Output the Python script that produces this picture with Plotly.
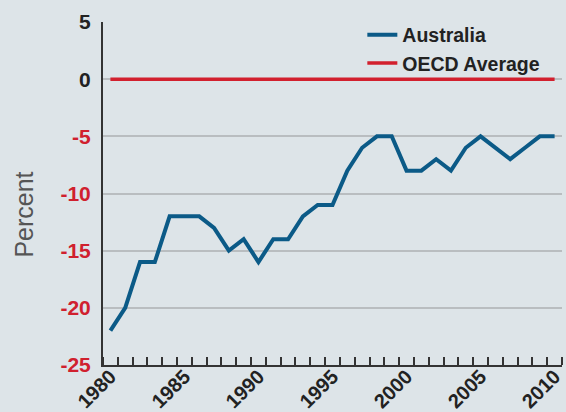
import plotly.graph_objects as go

years = list(range(1980, 2011))
australia = [-22, -20, -16, -16, -12, -12, -12, -13, -15, -14, -16, -14, -14, -12, -11, -11,
             -8, -6, -5, -5, -8, -8, -7, -8, -6, -5, -6, -7, -6, -5, -5]
oecd = [0] * len(years)

ytick_vals = [5, 0, -5, -10, -15, -20, -25]
ytick_colors = ["#222222", "#222222", "#d0202e", "#d0202e", "#d0202e", "#d0202e", "#d0202e"]
xtick_vals = [1980, 1985, 1990, 1995, 2000, 2005, 2010]

BG = "#dde4e8"
FONT = "Liberation Sans"

fig = go.Figure()
fig.add_trace(go.Scatter(x=years, y=australia, mode="lines", name="<b>Australia</b>",
                         line=dict(color="#0b5a87", width=4)))
fig.add_trace(go.Scatter(x=years, y=oecd, mode="lines", name="<b>OECD Average</b>",
                         line=dict(color="#d2202e", width=3.5)))

fig.update_layout(
    width=566, height=412,
    margin=dict(l=103, r=4, t=22, b=47),
    paper_bgcolor=BG, plot_bgcolor=BG,
    font=dict(family=FONT, size=20, color="#222222"),
    showlegend=True,
    legend=dict(x=0.565, y=1.019, xanchor="left", yanchor="top",
                bgcolor="rgba(0,0,0,0)", font=dict(size=19.5, color="#222222"),
                tracegroupgap=0),
    xaxis=dict(range=[1979.5, 2010.5], tickmode="array", tickvals=xtick_vals,
               ticktext=[f"<b>{v}</b>" for v in xtick_vals], tickangle=-45,
               ticks="", showgrid=False, zeroline=False, automargin=False,
               showline=True, linecolor="#333333", linewidth=2,
               tickfont=dict(size=20, color="#222222"),
               ticklabelstandoff=-10, ticklabelshift=0,
               minor=dict(ticks="inside", tick0=1979.5, dtick=1, ticklen=8,
                          tickwidth=1.5, tickcolor="#333333", showgrid=False)),
    yaxis=dict(range=[-25, 5], tickmode="array", tickvals=ytick_vals,
               ticktext=[f"<span style='color:{c}'><b>{v}</b></span>" for v, c in zip(ytick_vals, ytick_colors)],
               ticks="", showgrid=True, gridcolor="#b9bdc0", gridwidth=1.5,
               zeroline=False, showline=True, linecolor="#333333", linewidth=2,
               automargin=False, tickfont=dict(size=21), ticklabelstandoff=6),
    annotations=[dict(text="Percent", xref="paper", yref="paper", x=-0.171, y=0.437,
                      xanchor="center", yanchor="middle",
                      showarrow=False, textangle=-90,
                      font=dict(size=25, color="#555555", family=FONT))],
)

fig.write_html("out.html", config={"displayModeBar": False},
               post_script="document.body.style.margin='0';document.body.style.overflow='hidden';"
                           "document.body.style.background='#dde4e8';")
